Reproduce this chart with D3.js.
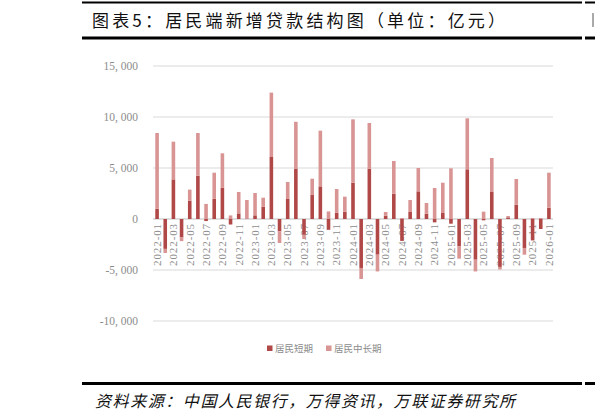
<!DOCTYPE html>
<html><head><meta charset="utf-8">
<script src="https://cdn.jsdelivr.net/npm/d3@7/dist/d3.min.js"></script>
<style>
html,body{margin:0;padding:0;background:#fff;}
svg{display:block;}
</style></head>
<body>
<svg id="c" width="595" height="420"></svg>
<script>
const months = ["2022-01","2022-02","2022-03","2022-04","2022-05","2022-06","2022-07","2022-08","2022-09","2022-10","2022-11","2022-12",
"2023-01","2023-02","2023-03","2023-04","2023-05","2023-06","2023-07","2023-08","2023-09","2023-10","2023-11","2023-12",
"2024-01","2024-02","2024-03","2024-04","2024-05","2024-06","2024-07","2024-08","2024-09","2024-10","2024-11","2024-12",
"2025-01","2025-02","2025-03","2025-04","2025-05","2025-06","2025-07","2025-08","2025-09","2025-10","2025-11","2025-12",
"2026-01"];
const shortTerm = [1000,-2930,3880,-1810,1800,4240,-200,1980,3050,-540,550,50,
360,1210,6080,-1200,1960,4950,-1540,2350,3200,-1060,600,720,
3560,-4800,4930,-3500,330,2480,-2150,690,2710,520,-330,590,
-460,-2680,4870,-3990,-130,2650,-4700,160,1400,-2840,-2100,-980,
1100];
const longTerm = [7430,-400,3700,-360,1080,4190,1480,2560,3390,350,2100,1810,
2190,880,6310,-1150,1670,4580,-420,1600,5460,740,2340,1470,
6210,-1080,4480,-1640,360,3210,100,1170,2290,1050,3040,2970,
4970,-1210,5000,-1150,720,3330,-250,130,2520,-660,100,100,
3440];
const yTicks = [-10000,-5000,0,5000,10000,15000];
const seriesNames = ["居民短期","居民中长期"];
const colors = ["#b04848","#d99494"];

const svg = d3.select("#c");
const x = d3.scaleBand().domain(months).range([153,553]).paddingInner(0.56).paddingOuter(0.28);
const y = d3.scaleLinear().domain([-10000,15000]).range([321,66]);

// header lines
const hdr = svg.append("g").attr("stroke","#000");
hdr.append("line").attr("x1",82).attr("x2",582).attr("y1",2.5).attr("y2",2.5).attr("stroke-width",2);
hdr.append("line").attr("x1",585).attr("x2",595).attr("y1",2.5).attr("y2",2.5).attr("stroke-width",2);
hdr.append("line").attr("x1",82).attr("x2",582).attr("y1",38).attr("y2",38).attr("stroke-width",3);
hdr.append("line").attr("x1",585).attr("x2",595).attr("y1",38).attr("y2",38).attr("stroke-width",3);
hdr.append("line").attr("x1",593).attr("x2",593).attr("y1",13).attr("y2",27).attr("stroke-width",1).attr("stroke","#555");
svg.append("text").attr("x",92).attr("y",27)
  .attr("font-family","'Noto Sans CJK SC'").attr("font-size",17).attr("fill","#111")
  .attr("textLength",413).attr("lengthAdjust","spacing")
  .text("图表5：居民端新增贷款结构图（单位：亿元）");

// grid
const grid = svg.append("g");
grid.selectAll("line").data(yTicks).join("line")
  .attr("x1",153).attr("x2",553).attr("y1",d=>y(d)).attr("y2",d=>y(d))
  .attr("stroke",d=>d===0?"#bfbfbf":"#d9d9d9").attr("stroke-width",1);

// y axis labels
const yAxis = d3.axisLeft(y).tickValues(yTicks).tickSize(0).tickPadding(0)
  .tickFormat(d=>d3.format(",")(d).replace(",",", ").replace("−","-"));
const ga = svg.append("g").attr("transform","translate(138,0)").call(yAxis);
ga.select(".domain").remove();
ga.selectAll("text").attr("font-family","'Liberation Serif'").attr("font-size",11.5).attr("fill","#8c8c8c");

// x labels
const xl = svg.append("g");
xl.selectAll("text").data(months.filter((m,i)=>i%2===0)).join("text")
  .attr("transform",d=>`translate(${x(d)+x.bandwidth()/2+3.8},223) rotate(-90)`)
  .attr("text-anchor","end")
  .attr("font-family","'Liberation Serif'").attr("font-size",11).attr("letter-spacing",0.9)
  .attr("fill","#8c8c8c").text(d=>d);

// bars
const rows = months.map((m,i)=>({m, s:shortTerm[i], l:longTerm[i]}));
const stack = d3.stack().keys(["s","l"]).offset(d3.stackOffsetDiverging);
const layers = stack(rows);
svg.append("g").selectAll("g").data(layers).join("g")
  .attr("fill",(d,i)=>colors[i])
  .selectAll("rect").data(d=>d).join("rect")
  .attr("x",d=>x(d.data.m))
  .attr("width",x.bandwidth())
  .attr("y",d=>y(Math.max(d[0],d[1])))
  .attr("height",d=>Math.abs(y(d[0])-y(d[1])));

// legend
const lg = svg.append("g");
const lx = [267,326];
seriesNames.forEach((n,i)=>{
  lg.append("rect").attr("x",lx[i]).attr("y",345.5).attr("width",5.5).attr("height",5.5).attr("fill",colors[i]);
  lg.append("text").attr("x",lx[i]+8).attr("y",352).attr("font-family","'Noto Sans CJK SC'")
    .attr("font-size",9.5).attr("fill","#8c8c8c").text(n);
});

// footer
svg.append("line").attr("x1",82).attr("x2",582).attr("y1",383.5).attr("y2",383.5).attr("stroke","#000").attr("stroke-width",3);
svg.append("line").attr("x1",585).attr("x2",595).attr("y1",383.5).attr("y2",383.5).attr("stroke","#000").attr("stroke-width",3);
svg.append("text").attr("x",95).attr("y",407)
  .attr("font-family","'Noto Sans CJK SC'").attr("font-size",16).attr("font-style","italic").attr("fill","#111")
  .attr("textLength",420).attr("lengthAdjust","spacing")
  .text("资料来源：中国人民银行，万得资讯，万联证券研究所");
</script>
</body></html>
